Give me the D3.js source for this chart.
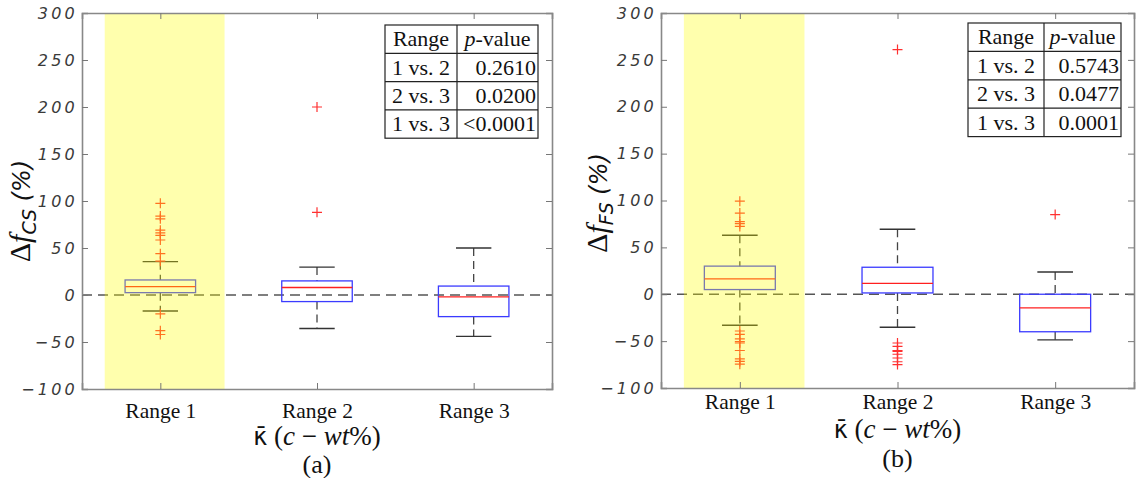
<!DOCTYPE html>
<html>
<head>
<meta charset="utf-8">
<script src="https://cdn.jsdelivr.net/npm/d3@7"></script>
<style>
  body { margin: 0; background: #fff; }
  .tick-lbl { font-family: "DejaVu Sans", sans-serif; font-style: italic; font-size: 16px; fill: #3a3a3a; letter-spacing: 3.2px; }
  .cat-lbl { font-family: "Liberation Serif", serif; font-size: 21.5px; fill: #111; }
  .tbl { font-family: "Liberation Serif", serif; font-size: 22px; fill: #111; }
</style>
</head>
<body>
<svg width="1139" height="478"></svg>
<script>
// categories and axis ticks
let categories = ["Range 1", "Range 2", "Range 3"];
let yTicks = [-100, -50, 0, 50, 100, 150, 200, 250, 300];
let highlight = [0.645, 1.41]; // shaded span, in category units

// panel (a): delta f_CS
let csLow = [-17, -35.7, -44];
let csQ1 = [2.5, -7, -23];
let csMedian = [9, 8, -2];
let csQ3 = [16, 15, 9.5];
let csHigh = [35.5, 29.7, 50];
let csOutliers = [
  [97.5, 84, 81, 69, 66, 63.5, 58.5, 44, 36, -20, -38, -42],
  [200, 88],
  []
];
let csPairs = ["1 vs. 2", "2 vs. 3", "1 vs. 3"];
let csP = ["0.2610", "0.0200", "<0.0001"];

// panel (b): delta f_FS
let fsLow = [-33, -35.2, -48.7];
let fsQ1 = [5, 1.4, -40];
let fsMedian = [16.3, 11.7, -14.6];
let fsQ3 = [30, 28.8, 0];
let fsHigh = [63, 69.3, 23.8];
let fsOutliers = [
  [99.3, 86.6, 77.4, 75.3, 72.4, -39.2, -42.8, -47.7, -50.5, -52, -60, -69, -71.7, -74.6],
  [261, -52, -55.5, -60, -61, -64, -68, -72, -75],
  [85]
];
let fsPairs = ["1 vs. 2", "2 vs. 3", "1 vs. 3"];
let fsP = ["0.5743", "0.0477", "0.0001"];

let svg = d3.select("svg");

function panel(opt) {
  let w = opt.w, h = opt.h;
  let g = svg.append("g").attr("transform", "translate(" + opt.left + "," + opt.top + ")");

  let x = d3.scaleLinear().domain([0.5, 3.5]).range([0, w]);
  let y = d3.scaleLinear().domain([-100, 300]).range([h, 0]);

  let boxes = categories.map((c, i) => ({
    pos: i + 1, low: opt.low[i], q1: opt.q1[i], med: opt.med[i], q3: opt.q3[i], high: opt.high[i], out: opt.out[i]
  }));

  // zero reference line
  g.append("line")
    .attr("x1", 0).attr("x2", w).attr("y1", y(0)).attr("y2", y(0))
    .attr("stroke", "#555").attr("stroke-width", 1.5).attr("stroke-dasharray", "10,6");

  let b = g.selectAll("g.box").data(boxes).enter().append("g").attr("class", "box");

  // whiskers
  b.append("line")
    .attr("x1", d => x(d.pos)).attr("x2", d => x(d.pos))
    .attr("y1", d => y(d.high)).attr("y2", d => y(d.q3))
    .attr("stroke", "#444").attr("stroke-width", 1.3).attr("stroke-dasharray", "8,5");
  b.append("line")
    .attr("x1", d => x(d.pos)).attr("x2", d => x(d.pos))
    .attr("y1", d => y(d.q1)).attr("y2", d => y(d.low))
    .attr("stroke", "#444").attr("stroke-width", 1.3).attr("stroke-dasharray", "8,5");
  ["high", "low"].forEach(k => {
    b.append("line")
      .attr("x1", d => x(d.pos - 0.113)).attr("x2", d => x(d.pos + 0.113))
      .attr("y1", d => y(d[k])).attr("y2", d => y(d[k]))
      .attr("stroke", "#333").attr("stroke-width", 1.4);
  });

  // box and median
  b.append("rect")
    .attr("x", d => x(d.pos - 0.225)).attr("width", d => x(d.pos + 0.225) - x(d.pos - 0.225))
    .attr("y", d => y(d.q3)).attr("height", d => y(d.q1) - y(d.q3))
    .attr("fill", "none").attr("stroke", "#3b3bff").attr("stroke-width", 1.3);
  b.append("line")
    .attr("x1", d => x(d.pos - 0.225)).attr("x2", d => x(d.pos + 0.225))
    .attr("y1", d => y(d.med)).attr("y2", d => y(d.med))
    .attr("stroke", "#ff2020").attr("stroke-width", 1.3);

  // outliers
  b.selectAll("path.out").data(d => d.out.map(v => ({ pos: d.pos, v: v }))).enter()
    .append("path").attr("class", "out")
    .attr("d", d => {
      let cx = x(d.pos), cy = y(d.v);
      return "M" + (cx - 5) + "," + cy + "H" + (cx + 5) + "M" + cx + "," + (cy - 5) + "V" + (cy + 5);
    })
    .attr("stroke", "#ff3030").attr("stroke-width", 1.2).attr("fill", "none");

  // translucent highlight over range 1
  g.append("rect")
    .attr("x", x(highlight[0])).attr("width", x(highlight[1]) - x(highlight[0]))
    .attr("y", 0).attr("height", h)
    .attr("fill", "#ffff00").attr("opacity", 0.32);

  // axes with inward ticks on all four sides
  let tickCol = "#777";
  let left = g.append("g").call(d3.axisLeft(y).tickValues(yTicks).tickSize(-6).tickPadding(4).tickFormat(d3.format("d")));
  let right = g.append("g").attr("transform", "translate(" + w + ",0)")
    .call(d3.axisRight(y).tickValues(yTicks).tickSize(-6).tickFormat(""));
  let bottom = g.append("g").attr("transform", "translate(0," + h + ")")
    .call(d3.axisBottom(x).tickValues([1, 2, 3]).tickSize(-6).tickPadding(opt.catPad).tickFormat(d => categories[d - 1]));
  let top = g.append("g").call(d3.axisTop(x).tickValues([1, 2, 3]).tickSize(-6).tickFormat(""));
  [left, right, bottom, top].forEach(a => {
    a.select(".domain").attr("stroke", "#888").attr("stroke-width", 1.6);
    a.selectAll(".tick line").attr("stroke", tickCol);
  });
  left.selectAll("text").attr("class", "tick-lbl").attr("font-family", null).attr("font-size", null).attr("fill", null);
  bottom.selectAll("text").attr("class", "cat-lbl").attr("font-family", null).attr("font-size", null).attr("fill", null);

  // p-value table
  let t = g.append("g").attr("transform", "translate(" + opt.tbl[0] + "," + opt.tbl[1] + ")");
  let c1 = opt.tblCols[0], c2 = opt.tblCols[1], rh = opt.rowH;
  let rows = [["Range", "p-value"]].concat(opt.pairs.map((p, i) => [p, opt.pv[i]]));
  t.append("rect").attr("width", c1 + c2).attr("height", rh * rows.length)
    .attr("fill", "#fff").attr("stroke", "#222").attr("stroke-width", 1.2);
  t.append("line").attr("x1", c1).attr("x2", c1).attr("y1", 0).attr("y2", rh * rows.length)
    .attr("stroke", "#222").attr("stroke-width", 1.2);
  rows.forEach((r, i) => {
    if (i > 0) t.append("line").attr("x1", 0).attr("x2", c1 + c2).attr("y1", rh * i).attr("y2", rh * i)
      .attr("stroke", "#222").attr("stroke-width", 1.2);
    t.append("text").attr("class", "tbl").attr("x", c1 / 2).attr("y", rh * i + rh - 7)
      .attr("text-anchor", "middle").text(r[0]);
    if (i === 0) {
      let tx = t.append("text").attr("class", "tbl").attr("x", c1 + c2 / 2).attr("y", rh - 7).attr("text-anchor", "middle");
      tx.append("tspan").attr("font-style", "italic").text("p");
      tx.append("tspan").text("-value");
    } else {
      t.append("text").attr("class", "tbl").attr("x", c1 + c2 - 2).attr("y", rh * i + rh - 7)
        .attr("text-anchor", "end").text(r[1]);
    }
  });

  // y label
  let yl = svg.append("text")
    .attr("transform", "translate(" + opt.ylab[0] + "," + opt.ylab[1] + ") rotate(-90)")
    .attr("text-anchor", "middle").attr("fill", "#111");
  yl.append("tspan").attr("font-family", "Liberation Serif").attr("font-size", 30).text("Δ");
  yl.append("tspan").attr("font-family", "Liberation Serif").attr("font-style", "italic").attr("font-size", 30).text("f");
  yl.append("tspan").attr("font-family", "DejaVu Sans").attr("font-style", "italic").attr("font-size", 19)
    .attr("dy", 6).text(opt.sub);
  yl.append("tspan").attr("font-family", "DejaVu Sans").attr("font-style", "italic").attr("font-size", 24)
    .attr("dy", -6).text(" (%)");

  // x label and panel caption
  let cx = opt.left + x(2);
  let xl = svg.append("text").attr("x", cx).attr("y", opt.xlabY).attr("text-anchor", "middle")
    .attr("font-family", "Liberation Serif").attr("font-size", 27).attr("fill", "#111");
  xl.append("tspan").attr("font-family", "DejaVu Sans").attr("font-size", 24).text("κ\u0304");
  xl.append("tspan").text(" (");
  xl.append("tspan").attr("font-style", "italic").text("c");
  xl.append("tspan").text(" − ");
  xl.append("tspan").attr("font-style", "italic").text("wt");
  xl.append("tspan").text("%)");
  svg.append("text").attr("x", cx).attr("y", opt.capY).attr("text-anchor", "middle")
    .attr("font-family", "Liberation Serif").attr("font-size", 26).attr("fill", "#111").text(opt.caption);
}

panel({
  left: 82, top: 13, w: 470, h: 376, catPad: 14,
  low: csLow, q1: csQ1, med: csMedian, q3: csQ3, high: csHigh, out: csOutliers,
  pairs: csPairs, pv: csP, tbl: [303, 12], tblCols: [72, 81], rowH: 28.3,
  ylab: [30, 211], sub: "CS", xlabY: 445, capY: 473, caption: "(a)"
});

panel({
  left: 661, top: 13, w: 473, h: 375, catPad: 6,
  low: fsLow, q1: fsQ1, med: fsMedian, q3: fsQ3, high: fsHigh, out: fsOutliers,
  pairs: fsPairs, pv: fsP, tbl: [307, 10], tblCols: [76, 77], rowH: 28.4,
  ylab: [607, 203], sub: "FS", xlabY: 438, capY: 467, caption: "(b)"
});
</script>
</body>
</html>
